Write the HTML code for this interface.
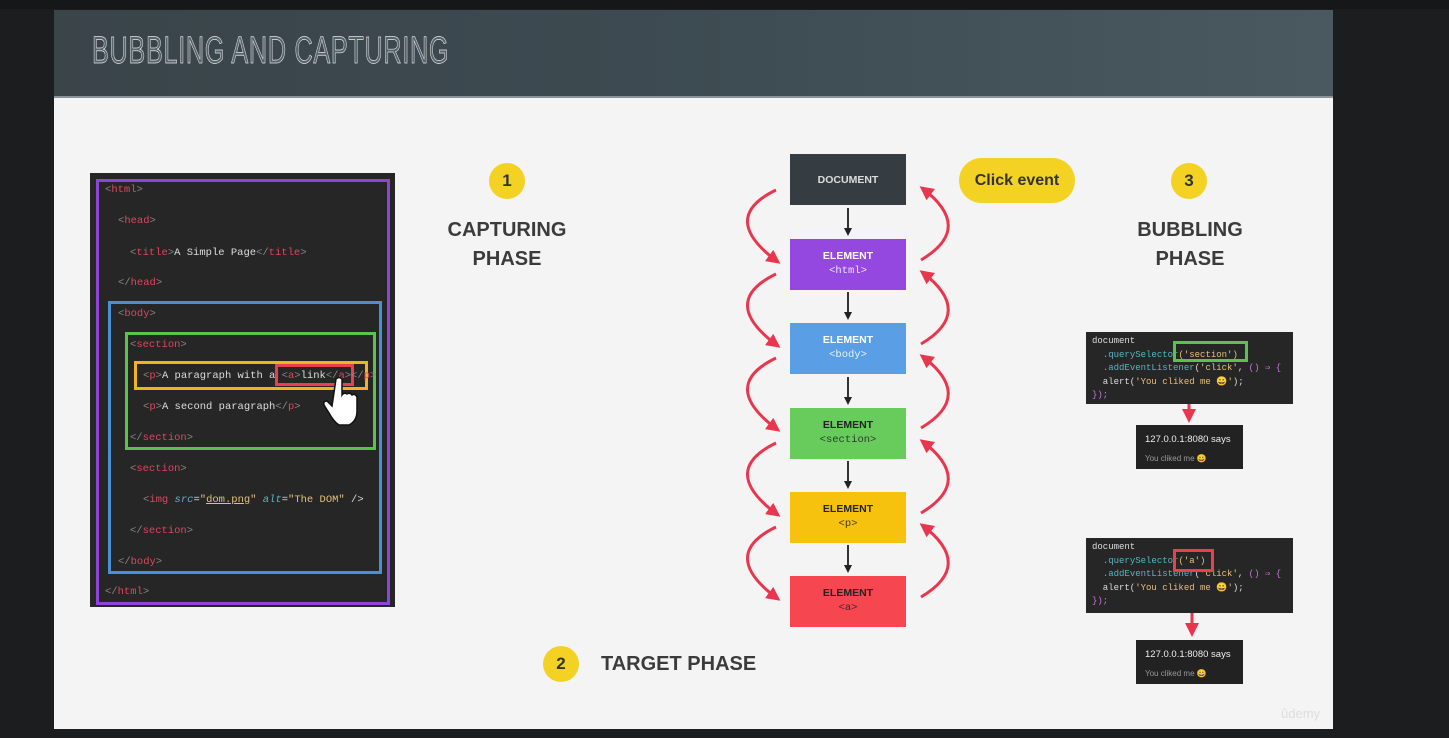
<!DOCTYPE html>
<html><head><meta charset="utf-8"><style>
body{margin:0;width:1449px;height:738px;background:#1c1d1f;position:relative;overflow:hidden;font-family:"Liberation Sans",sans-serif}
.a{position:absolute}
.slide{left:54px;top:10px;width:1279px;height:719px;background:#f4f4f4}
.hdr{left:54px;top:10px;width:1279px;height:86px;background:linear-gradient(90deg,#3a4449,#3d4b52 50%,#4a5960);border-bottom:2px solid #8a9399}
.title{left:92px;top:30px;font-size:38px;letter-spacing:1px;transform:scaleX(0.665);transform-origin:left;font-family:"Liberation Sans Narrow","Liberation Sans",sans-serif;-webkit-text-stroke:0.7px #e4e4e4;color:#55636a}
.code{left:90px;top:173px;width:305px;height:434px;background:#262626}
.ln{position:absolute;font-family:"Liberation Mono",monospace;font-size:10.5px;color:#ddd;white-space:pre}
.t{color:#e0455f}.g{color:#888}.y{color:#e5c07b}.c{color:#56b6c2;font-style:italic}
.bx{position:absolute;box-sizing:border-box}
.circ{position:absolute;width:36px;height:36px;border-radius:50%;background:#f3d223;font-weight:bold;font-size:17px;text-align:center;line-height:36px;color:#333}
.ph{position:absolute;font-weight:bold;font-size:20px;color:#3b3b3b;text-align:center;line-height:29px}
.node{position:absolute;left:790px;width:116px;height:51px;color:#fff;text-align:center;font-size:10.5px;font-weight:bold}
.node div{margin-top:11px}
.node span{display:block;font-family:"Liberation Mono",monospace;font-weight:normal;font-size:10.5px;margin-top:3px;opacity:.85}
.snip{position:absolute;left:1086px;width:207px;background:#262626;font-family:"Liberation Mono",monospace;font-size:9px;color:#ddd;line-height:13.5px;padding:3px 6px;box-sizing:border-box;white-space:pre;overflow:hidden}
.pop{position:absolute;left:1136px;width:107px;height:44px;background:#222;color:#eee;font-size:9.5px;box-sizing:border-box;padding:9px 9px}
.pop i{display:block;font-style:normal;color:#999;font-size:8px;margin-top:9px}
</style></head><body>
<div class="a" style="left:0;top:0;width:1449px;height:9px;background:#161719"></div>
<div class="a slide"></div>
<div class="a hdr"></div>
<div class="a title">BUBBLING AND CAPTURING</div>

<div class="a code"></div>
<div class="bx" style="left:96px;top:179px;width:294px;height:426px;border:3px solid #8e44d6"></div>
<div class="bx" style="left:108px;top:301px;width:274px;height:273px;border:3px solid #4a90d9"></div>
<div class="bx" style="left:125px;top:332px;width:251px;height:118px;border:3px solid #5cc24e"></div>
<div class="bx" style="left:134px;top:361px;width:234px;height:29px;border:3px solid #f0b51c"></div>
<div class="bx" style="left:275px;top:364px;width:79px;height:22px;border:3px solid #e8404f"></div>
<div class="ln" style="left:105px;top:184px"><span class="g">&lt;</span><span class="t">html</span><span class="g">&gt;</span></div>
<div class="ln" style="left:118px;top:215px"><span class="g">&lt;</span><span class="t">head</span><span class="g">&gt;</span></div>
<div class="ln" style="left:130px;top:247px"><span class="g">&lt;</span><span class="t">title</span><span class="g">&gt;</span>A Simple Page<span class="g">&lt;/</span><span class="t">title</span><span class="g">&gt;</span></div>
<div class="ln" style="left:118px;top:277px"><span class="g">&lt;/</span><span class="t">head</span><span class="g">&gt;</span></div>
<div class="ln" style="left:118px;top:308px"><span class="g">&lt;</span><span class="t">body</span><span class="g">&gt;</span></div>
<div class="ln" style="left:130px;top:339px"><span class="g">&lt;</span><span class="t">section</span><span class="g">&gt;</span></div>
<div class="ln" style="left:143px;top:370px"><span class="g">&lt;</span><span class="t">p</span><span class="g">&gt;</span>A paragraph with a <span class="g">&lt;</span><span class="t">a</span><span class="g">&gt;</span>link<span class="g">&lt;/</span><span class="t">a</span><span class="g">&gt;&lt;/</span><span class="t">p</span><span class="g">&gt;</span></div>
<div class="ln" style="left:143px;top:401px"><span class="g">&lt;</span><span class="t">p</span><span class="g">&gt;</span>A second paragraph<span class="g">&lt;/</span><span class="t">p</span><span class="g">&gt;</span></div>
<div class="ln" style="left:130px;top:432px"><span class="g">&lt;/</span><span class="t">section</span><span class="g">&gt;</span></div>
<div class="ln" style="left:130px;top:463px"><span class="g">&lt;</span><span class="t">section</span><span class="g">&gt;</span></div>
<div class="ln" style="left:143px;top:494px"><span class="g">&lt;</span><span class="t">img</span> <span class="c">src</span>=<span class="y">"<u>dom.png</u>"</span> <span class="c">alt</span>=<span class="y">"The DOM"</span> /&gt;</div>
<div class="ln" style="left:130px;top:525px"><span class="g">&lt;/</span><span class="t">section</span><span class="g">&gt;</span></div>
<div class="ln" style="left:118px;top:556px"><span class="g">&lt;/</span><span class="t">body</span><span class="g">&gt;</span></div>
<div class="ln" style="left:105px;top:586px"><span class="g">&lt;/</span><span class="t">html</span><span class="g">&gt;</span></div>
<svg class="a" style="left:320px;top:375px" width="45" height="52" viewBox="0 0 45 52"><path d="M16 4 q3-3 6 0 v16 q2-3 5 -1 q3-2 5 1 q3-2 5 2 v14 q0 10-8 14 h-10 q-5-3-10-12 l-5-8 q-1-4 3-4 l5 5 z" fill="#fff" stroke="#111" stroke-width="1.5"/></svg>

<div class="circ" style="left:489px;top:163px">1</div>
<div class="ph" style="left:427px;top:216px;width:160px">CAPTURING<br>PHASE</div>
<div class="circ" style="left:1171px;top:163px">3</div>
<div class="ph" style="left:1110px;top:216px;width:160px">BUBBLING<br>PHASE</div>
<div class="circ" style="left:543px;top:646px">2</div>
<div class="ph" style="left:601px;top:650px">TARGET PHASE</div>
<div class="a" style="left:959px;top:158px;width:116px;height:45px;border-radius:23px;background:#f3d223;text-align:center;line-height:45px;font-weight:bold;font-size:16px;color:#333">Click event</div>

<div class="node" style="top:154px;background:#353d42;color:#ddd"><div style="margin-top:20px">DOCUMENT</div></div>
<div class="node" style="top:239px;background:#9448e0"><div>ELEMENT</div><span>&lt;html&gt;</span></div>
<div class="node" style="top:323px;background:#5a9fe6"><div>ELEMENT</div><span>&lt;body&gt;</span></div>
<div class="node" style="top:408px;background:#68cc5c;color:#222"><div>ELEMENT</div><span>&lt;section&gt;</span></div>
<div class="node" style="top:492px;background:#f7c20e;color:#222"><div>ELEMENT</div><span>&lt;p&gt;</span></div>
<div class="node" style="top:576px;background:#f6464f;color:#222"><div>ELEMENT</div><span>&lt;a&gt;</span></div>

<svg class="a" style="left:0;top:0" width="1449" height="738">
<defs>
<marker id="ar" markerWidth="8" markerHeight="8" refX="6" refY="4" orient="auto" markerUnits="userSpaceOnUse"><path d="M0,0 L8,4 L0,8 z" fill="#222"/></marker>
<marker id="rr" markerWidth="16" markerHeight="16" refX="11" refY="8" orient="auto" markerUnits="userSpaceOnUse"><path d="M0,1 L14,8 L0,15 z" fill="#e8364f"/></marker>
</defs>
<g stroke="#333" stroke-width="2" marker-end="url(#ar)">
<line x1="848" y1="208" x2="848" y2="234"/><line x1="848" y1="292" x2="848" y2="318"/><line x1="848" y1="377" x2="848" y2="403"/><line x1="848" y1="461" x2="848" y2="487"/><line x1="848" y1="545" x2="848" y2="571"/>
</g>
<g stroke="#e8364f" stroke-width="3" fill="none" marker-end="url(#rr)">
<path d="M776 190 Q718 218 778 262"/><path d="M776 274 Q718 302 778 346"/><path d="M776 358 Q718 386 778 430"/><path d="M776 443 Q718 471 778 515"/><path d="M776 527 Q718 555 778 599"/>
<path d="M921 260 Q975 228 922 188"/><path d="M921 344 Q975 312 922 272"/><path d="M921 428 Q975 396 922 356"/><path d="M921 513 Q975 481 922 441"/><path d="M921 597 Q975 565 922 525"/>
<line x1="1189" y1="395" x2="1189" y2="420"/><line x1="1192" y1="605" x2="1192" y2="634"/>
</g>
</svg>

<div class="snip" style="top:332px;height:72px">document
  <span style="color:#56b6c2">.querySelector</span><span class="y">('section')</span>
  <span style="color:#56b6c2">.addEventListener</span>(<span class="y">'click'</span>, <span style="color:#c678dd">()</span> <span style="color:#c678dd">⇒ {</span>
  alert(<span class="y">'You cliked me 😀'</span>);
<span style="color:#c678dd">});</span></div>
<div class="bx" style="left:1173px;top:341px;width:75px;height:21px;border:3px solid #5cc24e"></div>
<div class="pop" style="top:425px">127.0.0.1:8080 says<i>You cliked me 😀</i></div>
<div class="snip" style="top:538px;height:75px">document
  <span style="color:#56b6c2">.querySelector</span><span class="y">('a')</span>
  <span style="color:#56b6c2">.addEventListener</span>(<span class="y">'click'</span>, <span style="color:#c678dd">()</span> <span style="color:#c678dd">⇒ {</span>
  alert(<span class="y">'You cliked me 😀'</span>);
<span style="color:#c678dd">});</span></div>
<div class="bx" style="left:1173px;top:549px;width:41px;height:23px;border:3px solid #e8404f"></div>
<div class="pop" style="top:640px">127.0.0.1:8080 says<i>You cliked me 😀</i></div>
<div class="a" style="left:1281px;top:706px;color:#ddd;font-size:13px">ûdemy</div>
</body></html>
